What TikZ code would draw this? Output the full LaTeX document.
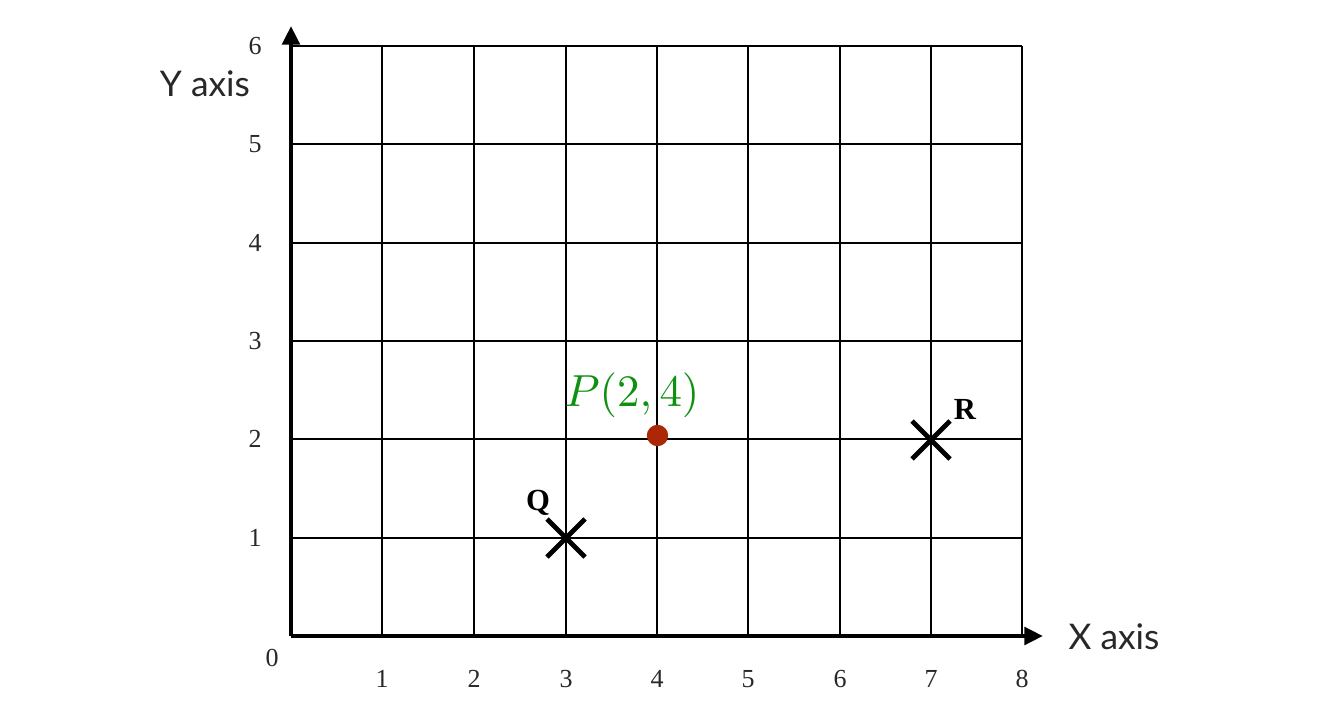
\documentclass[tikz,border=0pt]{standalone}
\usepackage{graphicx}
\usepackage{fontspec}
\setmainfont{Liberation Serif}
\newfontfamily\gillfont{Lato}
\usetikzlibrary{arrows.meta,calc}
\definecolor{pgreen}{RGB}{15,145,15}
\definecolor{pdot}{RGB}{170,40,5}
\definecolor{numgray}{RGB}{40,40,40}
\tikzset{
  gridline/.style={line width=1.4pt, black},
  axisline/.style={line width=3.3pt, black, -{Triangle[length=14pt,width=13pt]}},
  numlabel/.style={font=\fontsize{19.5}{22}\selectfont, text=numgray, inner sep=0pt},
  axislabel/.style={font=\gillfont\fontsize{26.5}{30}\selectfont, text=numgray, inner sep=0pt},
  ptlabel/.style={font=\bfseries\fontsize{23}{26}\selectfont, inner sep=0pt},
  crossmark/.style={line width=3.5pt, black}
}
\begin{document}
\begin{tikzpicture}[x=0.75pt,y=-0.75pt]
\useasboundingbox (0,0) rectangle (1322,728);
\fill[white] (0,0) rectangle (1322,728);
% grid
\foreach \xx in {382,474,566,657,748,840,931,1022}
  \draw[gridline] (\xx,46) -- (\xx,636);
\foreach \yy in {46,144,243,341,439,538}
  \draw[gridline] (291,\yy) -- (1022,\yy);
% axes
\coordinate (O) at (291,636);
\coordinate (xend) at (1043,636);
\coordinate (yend) at (291,26);
\draw[axisline] (O) -- (xend);
\draw[axisline] (O) -- (yend);
% axis labels
\node[axislabel] (ylab) at (205,84) {Y axis};
\node[axislabel] (xlab) at (1114,637) {X axis};
% tick numbers
\node[numlabel] (l0) at (272,658) {0};
\foreach \yy [count=\j] in {538,439,341,243,144,46}
  \node[numlabel, anchor=east] (ly\j) at (262,\yy) {\j};
\foreach \xx [count=\i] in {382,474,566,657,748,840,931,1022}
  \node[numlabel] (lx\i) at (\xx,679) {\i};
% point P
\node[circle, fill=pdot, inner sep=0pt, minimum size=16pt] (P) at (657.5,435.5) {};
\node[text=pgreen, inner sep=0pt, font=\fontsize{10}{12}\selectfont] (Plab) at (632,395) {\scalebox{3.37}{$P(2,4)$}};
% Q
\coordinate (Q) at (566,538);
\draw[crossmark] ($(Q)+(-19,-19)$) -- ($(Q)+(19,19)$);
\draw[crossmark] ($(Q)+(-19,19)$) -- ($(Q)+(19,-19)$);
\node[ptlabel] (Qlab) at (538,503) {Q};
% R
\coordinate (R) at (931,440);
\draw[crossmark] ($(R)+(-19,-19)$) -- ($(R)+(19,19)$);
\draw[crossmark] ($(R)+(-19,19)$) -- ($(R)+(19,-19)$);
\node[ptlabel] (Rlab) at (965,409) {R};
\end{tikzpicture}
\end{document}
